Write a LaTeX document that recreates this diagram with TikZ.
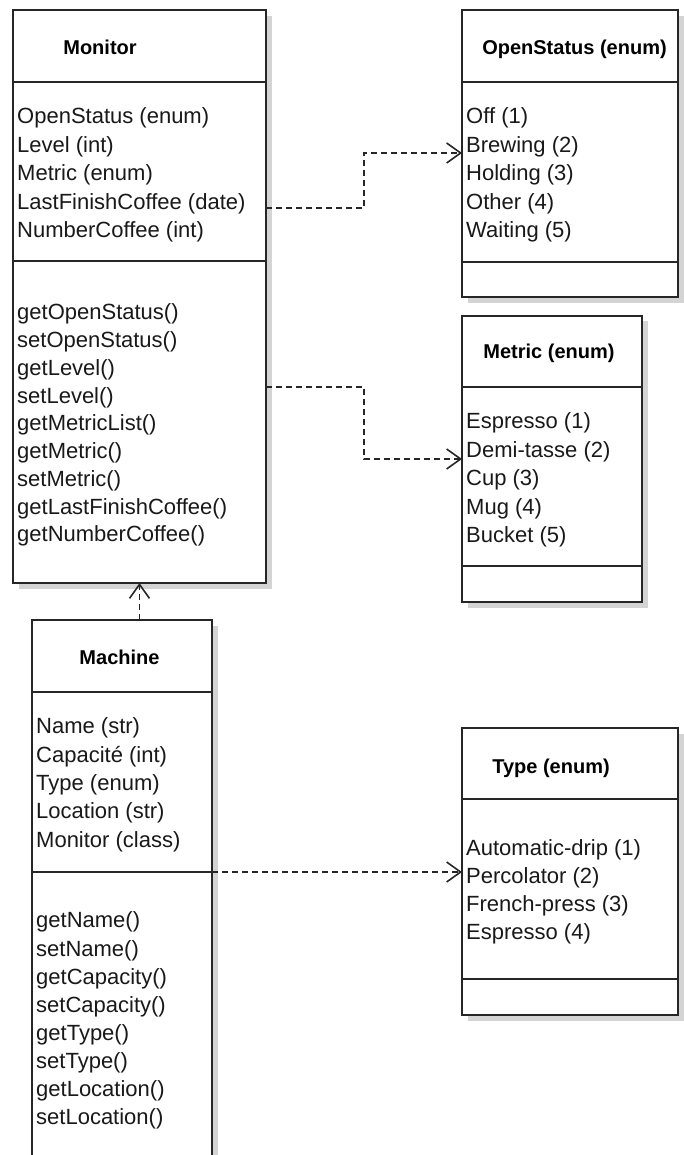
\documentclass[tikz,border=0pt]{standalone}
\usepackage{fontspec}
\setmainfont{Liberation Sans}
\usetikzlibrary{arrows.meta}
\begin{document}
\begin{tikzpicture}[x=1pt,y=-1pt,
  box/.style={draw=black!85, line width=1.6pt, fill=white, inner sep=0pt, outer sep=0pt, anchor=north west},
  shadowfill/.style={fill=black!17, draw=none},
  sep/.style={draw=black!85, line width=1.6pt},
  title/.style={font=\fontsize{20}{24}\selectfont\bfseries, inner sep=0pt, text height=14.4pt, text depth=0pt, anchor=center, text=black},
  item/.style={font=\fontsize{22}{28}\selectfont, inner sep=0pt, anchor=west, text height=15.8pt, text depth=0pt, text=black!90},
  dep/.style={draw=black!85, line width=1.6pt, dash pattern=on 6pt off 4pt, -{Straight Barb[length=14pt,width=20pt,line width=1.6pt]}},
]
\useasboundingbox (0,0) rectangle (684,1155);
\clip (0,0) rectangle (684,1155);

% shadows
\fill[shadowfill] (19,16) rectangle (272,589);
\fill[shadowfill] (468,16) rectangle (684,303);
\fill[shadowfill] (468,321) rectangle (648,608);
\fill[shadowfill] (468,734) rectangle (684,1021);
\fill[shadowfill] (38,626) rectangle (218,1200);

% boxes
\node[box, minimum width=253pt, minimum height=573pt] (mon) at (13,10) {};
\node[box, minimum width=216pt, minimum height=287pt] (os) at (462,10) {};
\node[box, minimum width=180pt, minimum height=286pt] (met) at (462,316) {};
\node[box, minimum width=216pt, minimum height=287pt] (typ) at (462,728) {};
\node[box, minimum width=180pt, minimum height=580pt] (mach) at (32,620) {};

% separators
\draw[sep] (mon.west |- 0,82) -- (mon.east |- 0,82);
\draw[sep] (mon.west |- 0,261) -- (mon.east |- 0,261);
\draw[sep] (os.west |- 0,82) -- (os.east |- 0,82);
\draw[sep] (os.west |- 0,262) -- (os.east |- 0,262);
\draw[sep] (met.west |- 0,387) -- (met.east |- 0,387);
\draw[sep] (met.west |- 0,566) -- (met.east |- 0,566);
\draw[sep] (typ.west |- 0,799) -- (typ.east |- 0,799);
\draw[sep] (typ.west |- 0,979) -- (typ.east |- 0,979);
\draw[sep] (mach.west |- 0,692) -- (mach.east |- 0,692);
\draw[sep] (mach.west |- 0,872) -- (mach.east |- 0,872);

% titles
\node[title] (mont) at (100,47.5) {Monitor};
\node[title] (ost) at (574.5,47.5) {OpenStatus (enum)};
\node[title] (mett) at (549,351.5) {Metric (enum)};
\node[title] (macht) at (119.5,657) {Machine};
\node[title] (typt) at (551,766) {Type (enum)};

% Monitor
\foreach \t [count=\i] in {OpenStatus (enum),Level (int),Metric (enum),LastFinishCoffee (date),NumberCoffee (int)}
  \node[item] (mona\i) at (17,{116+28.5*(\i-1)}) {\t};
\foreach \t [count=\i] in {getOpenStatus(),setOpenStatus(),getLevel(),setLevel(),getMetricList(),getMetric(),setMetric(),getLastFinishCoffee(),getNumberCoffee()}
  \node[item] (monm\i) at (17,{312+27.75*(\i-1)}) {\t};

% OpenStatus
\foreach \t [count=\i] in {Off (1),Brewing (2),Holding (3),Other (4),Waiting (5)}
  \node[item] (osa\i) at (466,{116+28.5*(\i-1)}) {\t};

% Metric
\foreach \t [count=\i] in {Espresso (1),Demi-tasse (2),Cup (3),Mug (4),Bucket (5)}
  \node[item] (meta\i) at (466,{421+28.5*(\i-1)}) {\t};

% Machine
\foreach \t [count=\i] in {Name (str),Capacité (int),Type (enum),Location (str),Monitor (class)}
  \node[item] (macha\i) at (36,{726+28.3*(\i-1)}) {\t};
\foreach \t [count=\i] in {getName(),setName(),getCapacity(),setCapacity(),getType(),setType(),getLocation(),setLocation()}
  \node[item] (machm\i) at (36,{920+28.1*(\i-1)}) {\t};

% Type
\foreach \t [count=\i] in {Automatic-drip (1),Percolator (2),French-press (3),Espresso (4)}
  \node[item] (typa\i) at (466,{848+28*(\i-1)}) {\t};

% connectors
\coordinate (b1) at (364,208);
\coordinate (b2) at (364,153);
\draw[dep] (mon.east |- b1) -- (b1) -- (b2) -- (os.west |- b2);
\coordinate (c1) at (364,387);
\coordinate (c2) at (364,459);
\draw[dep] (mon.east |- c1) -- (c1) -- (c2) -- (met.west |- c2);
\draw[dep] (mon.south |- mach.north) -- (mon.south);
\draw[dep] (mach.east |- 0,872) -- (typ.west |- 0,872);
\end{tikzpicture}
\end{document}
